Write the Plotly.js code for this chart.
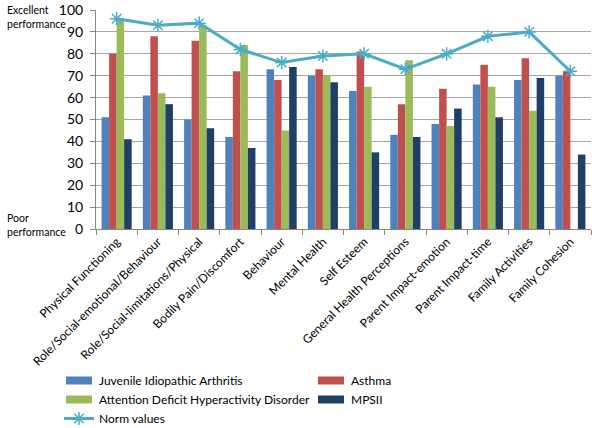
<!DOCTYPE html>
<html>
<head>
<meta charset="utf-8">
<script src="https://cdn.plot.ly/plotly-3.0.1.min.js"></script>
<style>
  body { margin: 0; background: #fff; }
  #chart { width: 600px; height: 428px; }
</style>
</head>
<body>
<div id="chart"></div>
<script>
let categories = [
    "Physical Functioning",
    "Role/Social-emotional/Behaviour",
    "Role/Social-limitations/Physical",
    "Bodily Pain/Discomfort",
    "Behaviour",
    "Mental Health",
    "Self Esteem",
    "General Health Perceptions",
    "Parent Impact-emotion",
    "Parent Impact-time",
    "Family Activities",
    "Family Cohesion",
];

let jia = [51, 61, 50, 42, 73, 70, 63, 43, 48, 66, 68, 70];
let asthma = [80, 88, 86, 72, 68, 73, 81, 57, 64, 75, 78, 72];
let adhd = [96, 62, 93, 84, 45, 70, 65, 77, 47, 65, 54, null];
let mpsii = [41, 57, 46, 37, 74, 67, 35, 42, 55, 51, 69, 34];
let norm = [96, 93, 94, 82, 76, 79, 80, 73, 80, 88, 90, 72];

const FONT = "Lato, 'Open Sans', sans-serif";

function bar(name, values, color) {
    return {
        type: "bar",
        name: name,
        x: categories,
        y: values,
        marker: { color: color },
    };
}

let traces = [
    bar("Juvenile Idiopathic Arthritis", jia, "#4F81BD"),
    bar("Asthma", asthma, "#C0504D"),
    bar("Attention Deficit Hyperactivity Disorder", adhd, "#9BBB59"),
    bar("MPSII", mpsii, "#1F3F66"),
    {
        type: "scatter",
        mode: "lines+markers",
        name: "Norm values",
        x: categories,
        y: norm,
        line: { color: "#4BACC6", width: 3 },
        marker: {
            symbol: "asterisk-open",
            size: 11,
            color: "#4BACC6",
            line: { color: "#4BACC6", width: 1.5 },
        },
    },
];

// pixel -> paper helpers (plot area 96..591 x 10..229)
function px(x) { return (x - 96) / 495; }
function py(y) { return 1 - (y - 10) / 219; }

let layout = {
    width: 600,
    height: 428,
    margin: { l: 96, r: 9, t: 10, b: 199, autoexpand: false },
    paper_bgcolor: "#ffffff",
    plot_bgcolor: "#ffffff",
    font: { family: FONT, color: "#000000", size: 12 },
    barmode: "group",
    bargap: 0.27,
    bargroupgap: 0,
    showlegend: true,
    legend: {
        orientation: "h",
        x: px(59),
        xanchor: "left",
        y: py(366),
        yanchor: "top",
        entrywidth: 207,
        tracegroupgap: 0,
        font: { family: FONT, size: 12, color: "#000" },
        itemwidth: 30,
    },
    xaxis: {
        type: "category",
        range: [-0.5, categories.length - 0.5],
        automargin: false,
        tickangle: -45,
        tickfont: { family: FONT, size: 12 },
        showline: true,
        linecolor: "#868686",
        ticks: "outside",
        tickson: "boundaries",
        ticklen: 5,
        tickcolor: "#868686",
        showgrid: false,
    },
    yaxis: {
        automargin: false,
        range: [0, 100],
        dtick: 10,
        tickfont: { family: FONT, size: 14 },
        ticklabelstandoff: 4,
        showline: true,
        linecolor: "#868686",
        ticks: "outside",
        ticklen: 5,
        tickcolor: "#868686",
        gridcolor: "#a6a6a6",
        gridwidth: 1,
        zeroline: false,
    },
    annotations: [
        { text: "Excellent", x: 5, y: 10 },
        { text: "performance", x: 5, y: 24 },
        { text: "Poor", x: 5, y: 218 },
        { text: "performance", x: 5, y: 232 },
    ].map((a) => ({
        text: a.text,
        xref: "paper",
        yref: "paper",
        x: px(a.x),
        y: py(a.y),
        xanchor: "left",
        yanchor: "middle",
        showarrow: false,
        font: { family: FONT, size: 10.5, color: "#000" },
    })),
};

Plotly.newPlot("chart", traces, layout, { displayModeBar: false }).then((gd) => {
    // excel style legend swatches: wide flat rectangles for the bars
    gd.querySelectorAll(".legend .legendpoints path.legendundefined, .legend .legendbar path").forEach((p) => {
        p.setAttribute("d", "M-13,-4H13V4H-13Z");
    });
});
</script>
</body>
</html>
